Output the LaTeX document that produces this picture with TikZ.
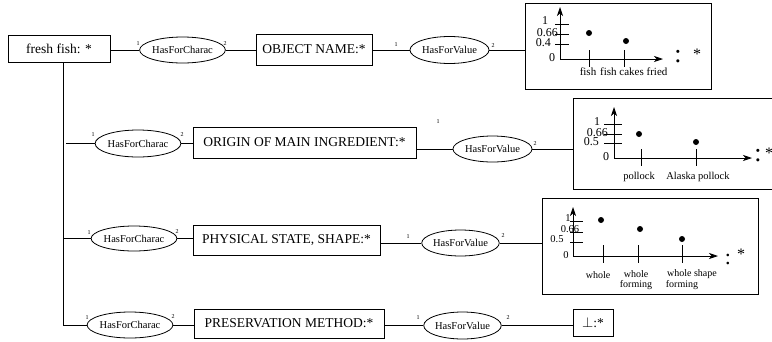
\documentclass[tikz,border=0pt]{standalone}
\usepackage{fontspec}
\setmainfont{Liberation Serif}
\usetikzlibrary{shapes.geometric,arrows.meta}
\newcommand\myfs[1]{\fontsize{#1}{#1}\selectfont}
\tikzset{
 ent/.style={draw, line width=0.9pt, inner sep=0pt, font=\myfs{13.5}},
 rel/.style={draw, ellipse, line width=0.8pt, inner sep=0pt, font=\myfs{10.5}},
 role/.style={inner sep=0pt, font=\myfs{6}},
 conn/.style={line width=0.8pt},
 axis/.style={line width=0.8pt, -{Stealth[length=9pt,width=6pt,inset=2.5pt]}},
 tk/.style={line width=0.8pt},
 vbox/.style={draw, line width=0.9pt, inner sep=0pt},
 ylab/.style={inner sep=0pt, font=\myfs{12}},
 ylabs/.style={inner sep=0pt, font=\myfs{10.5}},
 xlab/.style={inner sep=0pt, font=\myfs{10.5}, align=center},
 colon/.style={inner sep=0pt, font=\myfs{26}, anchor=base},
 star/.style={inner sep=0pt, font=\myfs{16}, anchor=base},
}
\begin{document}
\begin{tikzpicture}[x=1pt,y=-1pt]
\useasboundingbox (0,0) rectangle (772,341);
\clip (0,0) rectangle (772,341);

% ---------- row 1
\node[ent, minimum width=102pt, minimum height=27pt] (ff) at (59,48.5) {fresh fish: *};
\node[rel, minimum width=79pt, minimum height=26pt] (hc1) at (182.5,50) {HasForCharac};
\node[ent, minimum width=116pt, minimum height=31pt] (on) at (314,49.5) {OBJECT NAME:*};
\node[rel, minimum width=79pt, minimum height=27pt] (hv1) at (449.5,50) {HasForValue};
\node[vbox, minimum width=186pt, minimum height=86pt] (vb1) at (618,46) {};
\draw[conn] (ff.east |- hc1.west) -- (hc1.west);
\draw[conn] (hc1.east) -- (on.west |- hc1.east);
\draw[conn] (on.east |- hv1.west) -- (hv1.west);
\draw[conn] (hv1.east) -- (hv1.east -| vb1.west);
\node[role] (r1a) at (138,44) {1};
\node[role] (r1b) at (225,44) {2};
\node[role] (r1c) at (396,45) {1};
\node[role] (r1d) at (493,46) {2};

% graph 1
\coordinate (o1) at (560,59);
\draw[axis] (o1) -- (560,7);
\draw[axis] (o1) -- (663,59);
\draw[tk] (555,24) -- (569,24);
\draw[tk] (555,34) -- (569,34);
\draw[tk] (555,44) -- (569,44);
\node[ylab] (g1y1) at (545,21) {1};
\node[ylab, anchor=east] (g1y2) at (558,32.5) {0.66};
\node[ylab, anchor=east] (g1y3) at (551,42.5) {0.4};
\node[ylab] (g1y0) at (552,58) {0};
\fill (589,33) circle (3pt);
\fill (626,41) circle (3pt);
\draw[tk] (589,50) -- (589,67);
\draw[tk] (624,50) -- (624,67);
\node[xlab, font=\myfs{11}] (g1x1) at (588,72) {fish};
\node[xlab, font=\myfs{11}, anchor=west] (g1x2) at (600,72) {fish cakes fried};
\node[colon] (c1) at (678,62.4) {:};
\node[star] (s1) at (697,59.5) {*};

% ---------- row 2
\node[rel, minimum width=80pt, minimum height=27pt] (hc2) at (138,143.5) {HasForCharac};
\node[ent, minimum width=223pt, minimum height=31pt] (og) at (304.5,142.5) {ORIGIN OF MAIN INGREDIENT:*};
\node[rel, minimum width=79pt, minimum height=26pt] (hv2) at (492.5,149) {HasForValue};
\node[vbox, minimum width=217pt, minimum height=91pt] (vb2) at (681.5,143.5) {};
\coordinate (t2) at (66,143.5);
\draw[conn] (t2) -- (hc2.west);
\draw[conn] (hc2.east) -- (og.west |- hc2.east);
\draw[conn] (og.east |- hv2.west) -- (hv2.west);
\draw[conn] (hv2.east) -- (hv2.east -| vb2.west);
\node[role] (r2a) at (93,135) {1};
\node[role] (r2b) at (182,135) {2};
\node[role] (r2c) at (438,122) {1};
\node[role] (r2d) at (535,144) {2};

% graph 2
\coordinate (o2) at (614,158);
\draw[axis] (o2) -- (614,107);
\draw[axis] (o2) -- (752,158);
\draw[tk] (604,124) -- (622,124);
\draw[tk] (604,134) -- (622,134);
\draw[tk] (604,143) -- (622,143);
\node[ylab] (g2y1) at (597,122) {1};
\node[ylab, anchor=east] (g2y2) at (608,132.5) {0.66};
\node[ylab, anchor=east] (g2y3) at (599,141.5) {0.5};
\node[ylab] (g2y0) at (606,157) {0};
\fill (639,134) circle (3pt);
\fill (696,142) circle (3pt);
\draw[tk] (641,149) -- (641,166);
\draw[tk] (696,149) -- (696,166);
\node[xlab] (g2x1) at (639,177) {pollock};
\node[xlab] (g2x2) at (698,177) {Alaska pollock};
\node[colon] (c2) at (758,161.4) {:};
\node[star] (s2) at (769,158.5) {*};

% ---------- row 3
\node[rel, minimum width=78pt, minimum height=25pt] (hc3) at (134,238.5) {HasForCharac};
\node[ent, minimum width=187pt, minimum height=30pt] (ps) at (286.5,240) {PHYSICAL STATE, SHAPE:*};
\node[rel, minimum width=76pt, minimum height=26pt] (hv3) at (460.5,243) {HasForValue};
\node[vbox, minimum width=216pt, minimum height=96pt] (vb3) at (650,246) {};
\coordinate (t0) at (63,62);
\draw[conn] (t0 |- hc3.west) -- (hc3.west);
\draw[conn] (hc3.east) -- (ps.west |- hc3.east);
\draw[conn] (ps.east |- hv3.west) -- (hv3.west);
\draw[conn] (hv3.east) -- (hv3.east -| vb3.west);
\node[role] (r3a) at (89,233) {1};
\node[role] (r3b) at (177,232) {2};
\node[role] (r3c) at (408,237) {1};
\node[role] (r3d) at (503,236) {2};

% graph 3
\coordinate (o3) at (573,256);
\draw[axis] (o3) -- (573,207);
\draw[axis] (o3) -- (718,256);
\draw[tk] (570,221) -- (583,221);
\draw[tk] (570,232) -- (583,232);
\draw[tk] (570,242) -- (583,242);
\node[ylabs] (g3y1) at (568,218) {1};
\node[ylabs] (g3y2) at (570,229) {0.66};
\node[ylabs] (g3y3) at (557,239.5) {0.5};
\node[ylabs] (g3y0) at (566,255) {0};
\fill (601,220) circle (3pt);
\fill (640,229) circle (3pt);
\fill (682,239) circle (3pt);
\draw[tk] (603,245) -- (603,263);
\draw[tk] (638,245) -- (638,263);
\draw[tk] (682,245) -- (682,263);
\node[xlab, font=\myfs{10}] (g3x1) at (598,275) {whole};
\node[xlab, font=\myfs{10}] (g3x2) at (636,280) {whole\\forming};
\node[xlab, font=\myfs{10}] (g3x3) at (692,274) {whole shape};
\node[xlab, font=\myfs{10}] (g3x4) at (682,285.5) {forming};
\node[colon, font=\myfs{22}] (c3) at (728,264.5) {:};
\node[star] (s3) at (741,259.5) {*};

% ---------- row 4
\node[rel, minimum width=80pt, minimum height=26pt] (hc4) at (130,325) {HasForCharac};
\node[ent, minimum width=190pt, minimum height=29pt] (pm) at (289,323.5) {PRESERVATION METHOD:*};
\node[rel, minimum width=76pt, minimum height=27pt] (hv4) at (462.5,325.5) {HasForValue};
\node[ent, minimum width=40pt, minimum height=27pt] (bt) at (593,322.5) {$\perp$:*};
\draw[conn] (t0) -- (t0 |- hc4.west) -- (hc4.west);
\draw[conn] (hc4.east) -- (pm.west |- hc4.east);
\draw[conn] (pm.east |- hv4.west) -- (hv4.west);
\draw[conn] (hv4.east) -- (hv4.east -| bt.west);
\node[role] (r4a) at (87,318) {1};
\node[role] (r4b) at (173,317) {2};
\node[role] (r4c) at (418,318) {1};
\node[role] (r4d) at (508,318) {2};
\end{tikzpicture}
\end{document}
